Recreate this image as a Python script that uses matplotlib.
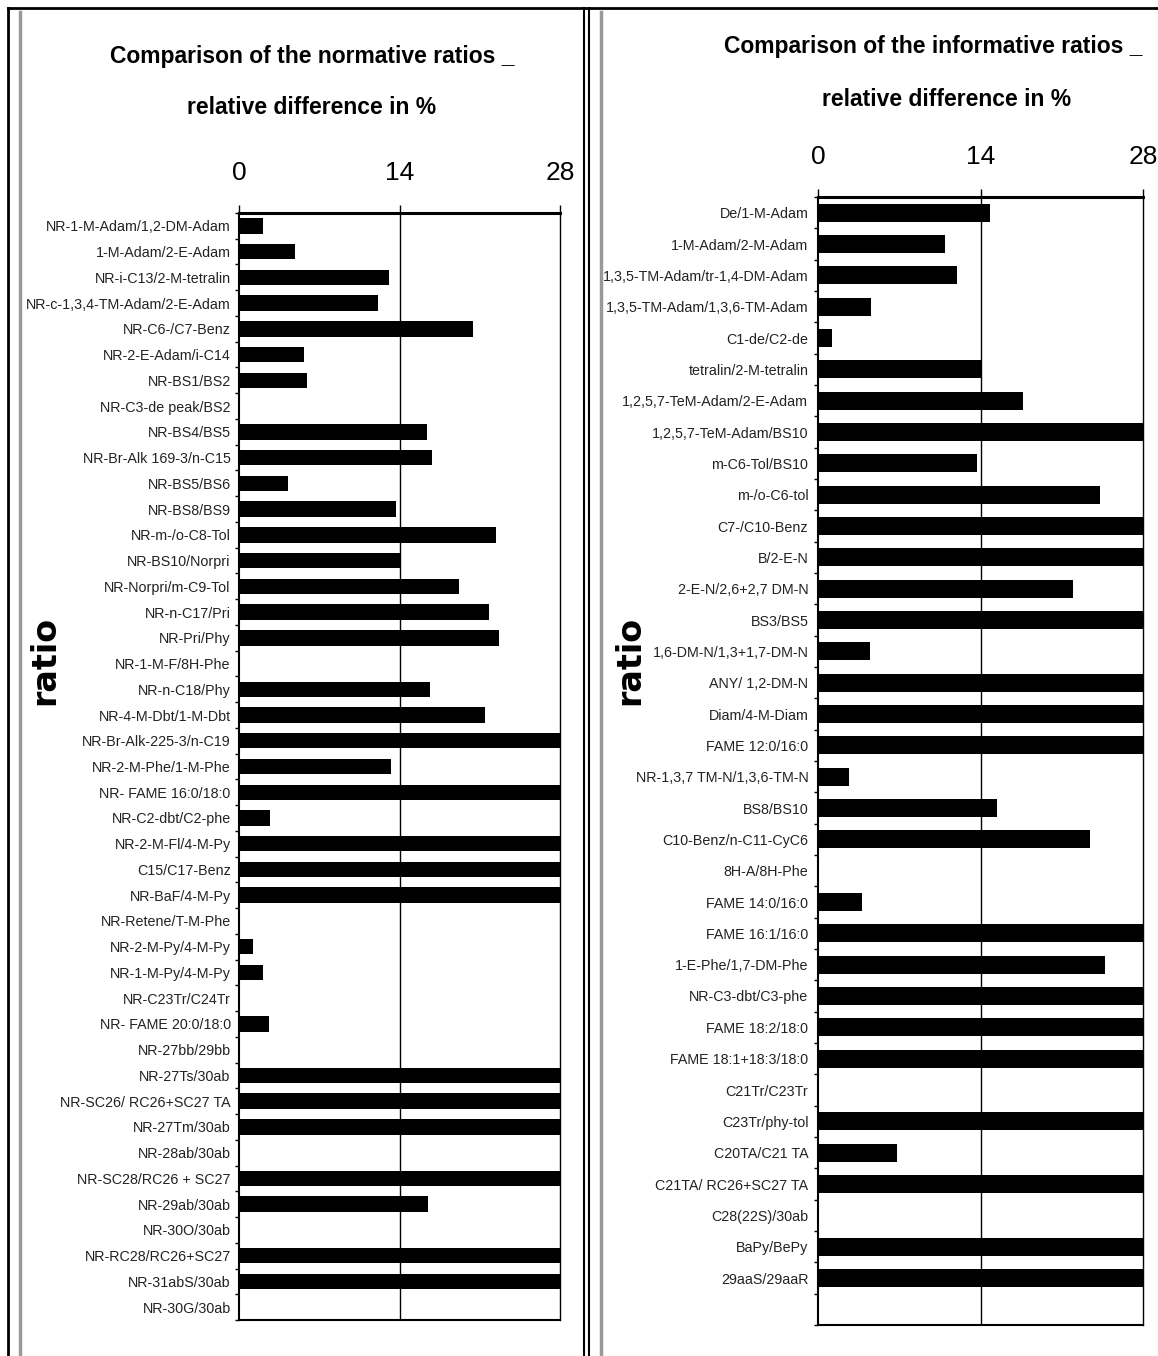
import numpy as np
import matplotlib
matplotlib.use("Agg")
import matplotlib.pyplot as plt
from matplotlib.lines import Line2D

sans = ['Liberation Sans', 'DejaVu Sans']

norm_labels = [
    'NR-1-M-Adam/1,2-DM-Adam', '1-M-Adam/2-E-Adam', 'NR-i-C13/2-M-tetralin',
    'NR-c-1,3,4-TM-Adam/2-E-Adam', 'NR-C6-/C7-Benz', 'NR-2-E-Adam/i-C14',
    'NR-BS1/BS2', 'NR-C3-de peak/BS2', 'NR-BS4/BS5', 'NR-Br-Alk 169-3/n-C15',
    'NR-BS5/BS6', 'NR-BS8/BS9', 'NR-m-/o-C8-Tol', 'NR-BS10/Norpri',
    'NR-Norpri/m-C9-Tol', 'NR-n-C17/Pri', 'NR-Pri/Phy', 'NR-1-M-F/8H-Phe',
    'NR-n-C18/Phy', 'NR-4-M-Dbt/1-M-Dbt', 'NR-Br-Alk-225-3/n-C19',
    'NR-2-M-Phe/1-M-Phe', 'NR- FAME 16:0/18:0', 'NR-C2-dbt/C2-phe',
    'NR-2-M-Fl/4-M-Py', 'C15/C17-Benz', 'NR-BaF/4-M-Py', 'NR-Retene/T-M-Phe',
    'NR-2-M-Py/4-M-Py', 'NR-1-M-Py/4-M-Py', 'NR-C23Tr/C24Tr',
    'NR- FAME 20:0/18:0', 'NR-27bb/29bb', 'NR-27Ts/30ab',
    'NR-SC26/ RC26+SC27 TA', 'NR-27Tm/30ab', 'NR-28ab/30ab',
    'NR-SC28/RC26 + SC27', 'NR-29ab/30ab', 'NR-30O/30ab',
    'NR-RC28/RC26+SC27', 'NR-31abS/30ab', 'NR-30G/30ab',
]
norm_values = [
    2.1, 4.9, 13.1, 12.1, 20.4, 5.7, 5.9, 0, 16.4, 16.8,
    4.3, 13.7, 22.4, 14.0, 19.2, 21.8, 22.7, 0, 16.7, 21.5,
    28, 13.3, 28, 2.7, 28, 28, 28, 0, 1.2, 2.1,
    0, 2.6, 0, 28, 28, 28, 0, 28, 16.5, 0,
    28, 28, 0,
]

info_labels = [
    'De/1-M-Adam', '1-M-Adam/2-M-Adam', '1,3,5-TM-Adam/tr-1,4-DM-Adam',
    '1,3,5-TM-Adam/1,3,6-TM-Adam', 'C1-de/C2-de', 'tetralin/2-M-tetralin',
    '1,2,5,7-TeM-Adam/2-E-Adam', '1,2,5,7-TeM-Adam/BS10', 'm-C6-Tol/BS10',
    'm-/o-C6-tol', 'C7-/C10-Benz', 'B/2-E-N', '2-E-N/2,6+2,7 DM-N', 'BS3/BS5',
    '1,6-DM-N/1,3+1,7-DM-N', 'ANY/ 1,2-DM-N', 'Diam/4-M-Diam',
    'FAME 12:0/16:0', 'NR-1,3,7 TM-N/1,3,6-TM-N', 'BS8/BS10',
    'C10-Benz/n-C11-CyC6', '8H-A/8H-Phe', 'FAME 14:0/16:0', 'FAME 16:1/16:0',
    '1-E-Phe/1,7-DM-Phe', 'NR-C3-dbt/C3-phe', 'FAME 18:2/18:0',
    'FAME 18:1+18:3/18:0', 'C21Tr/C23Tr', 'C23Tr/phy-tol', 'C20TA/C21 TA',
    'C21TA/ RC26+SC27 TA', 'C28(22S)/30ab', 'BaPy/BePy', '29aaS/29aaR', '',
]
info_values = [
    14.8, 10.9, 12.0, 4.6, 1.2, 14.0, 17.7, 28, 13.7, 24.3,
    28, 28, 22.0, 28, 4.5, 28, 28, 28, 2.7, 15.4,
    23.4, 0, 3.8, 28, 24.7, 28, 28, 28, 0, 28,
    6.8, 28, 0, 28, 28, 0,
]

xticks = [0, 14, 28]

W, H = 1158, 1356
fig = plt.figure(figsize=(W / 100, H / 100), dpi=100)


def px_box(x0, x1, ytop, ybot):
    return [x0 / W, 1 - ybot / H, (x1 - x0) / W, (ybot - ytop) / H]


def draw_panel(ax, labels, values, bar_h, label_size, pad):
    n = len(labels)
    pos = np.arange(n)
    ax.barh(pos, values, height=bar_h, color='black')
    ax.set_xlim(0, 28)
    ax.set_ylim(n - 0.5, -0.5)
    ax.xaxis.tick_top()
    ax.set_xticks(xticks)
    ax.set_xticklabels([str(t) for t in xticks], family=sans, fontsize=19)
    ax.tick_params(axis='x', direction='out', length=6, width=1, pad=14)
    ax.set_yticks(pos)
    ax.set_yticklabels(labels, family=sans, fontsize=label_size, color='#222222')
    ax.set_yticks(np.arange(-0.5, n), minor=True)
    ax.tick_params(axis='y', which='major', length=0, pad=pad)
    ax.tick_params(axis='y', which='minor', direction='out', length=3, width=1)
    ax.axvline(14, color='black', lw=1)
    ax.spines['top'].set_linewidth(2.2)
    ax.spines['left'].set_linewidth(1.5)
    ax.spines['bottom'].set_linewidth(1.5)
    ax.spines['right'].set_linewidth(1)


ax1 = fig.add_axes(px_box(239, 560, 213, 1320))
draw_panel(ax1, norm_labels, norm_values, 0.6, 10.3, 6)

ax2 = fig.add_axes(px_box(818, 1143, 197, 1325))
draw_panel(ax2, info_labels, info_values, 0.58, 10.3, 7)

# titles
title_kw = dict(va='center', family=sans, fontweight='bold', fontsize=16.5)
fig.text(312 / W, 1 - 56 / H, 'Comparison of the normative ratios _',
         ha='center', **title_kw)
fig.text(312 / W, 1 - 107 / H, 'relative difference in %',
         ha='center', **title_kw)
fig.text(724 / W, 1 - 47 / H, 'Comparison of the informative ratios _',
         ha='left', **title_kw)
fig.text(947 / W, 1 - 99 / H, 'relative difference in %',
         ha='center', **title_kw)

# axis names
fig.text(45 / W, 1 - 660 / H, 'ratio', rotation=90, ha='center', va='center',
         fontweight='bold', fontsize=24)
fig.text(630 / W, 1 - 660 / H, 'ratio', rotation=90, ha='center', va='center',
         fontweight='bold', fontsize=24)


# panel frames
def vline(x, y0, y1, color, lw):
    fig.add_artist(Line2D([x / W, x / W], [1 - y0 / H, 1 - y1 / H],
                          color=color, lw=lw, transform=fig.transFigure))


def hline(y, x0, x1, color, lw):
    fig.add_artist(Line2D([x0 / W, x1 / W], [1 - y / H, 1 - y / H],
                          color=color, lw=lw, transform=fig.transFigure))


hline(8, 8, W, 'black', 2)
vline(8, 8, H, 'black', 2)
vline(20, 12, H, '#999999', 2.5)
vline(584, 8, H, 'black', 1.5)
vline(589, 8, H, 'black', 1.5)
vline(601, 12, H, '#999999', 2.5)

fig.savefig('out.png', dpi=100)
